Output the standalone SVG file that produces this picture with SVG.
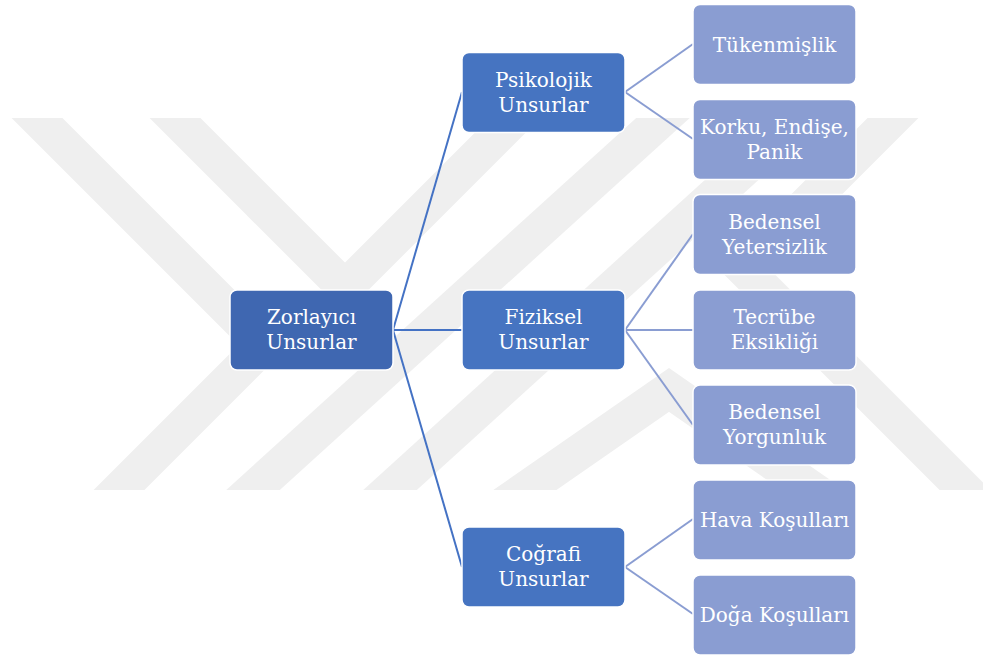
<svg xmlns="http://www.w3.org/2000/svg" width="983" height="658" viewBox="0 0 983 658">
<defs>
<clipPath id="wm"><rect x="0" y="118" width="983" height="372"/></clipPath>
<style>
.wm{fill:none;stroke:#EFEFEF;stroke-width:36;stroke-linejoin:miter;stroke-miterlimit:10}
.b1{fill:#3F67B1;stroke:#FFFFFF;stroke-width:1.5}
.b2{fill:#4674C1;stroke:#FFFFFF;stroke-width:1.5}
.b3{fill:#8A9DD2;stroke:#FFFFFF;stroke-width:1.5}
.c1{stroke:#4472C4;stroke-width:2;fill:none}
.c2{stroke:#8A9DD2;stroke-width:2;fill:none}
</style>
</defs>
<rect width="983" height="658" fill="#FFFFFF"/>
<g id="watermark" clip-path="url(#wm)">
<polyline class="wm" points="17,98 264,345 97,512"/>
<polyline class="wm" points="155,98 345,288 535,98"/>
<polyline class="wm" points="685,98 231,510"/>
<polyline class="wm" points="368,510 822,98"/>
<polyline class="wm" points="496,510 669,390 842,510"/>
<polyline class="wm" points="913,98 743,268 985,510"/>
</g>
<g id="connectors">
<line class="c1" x1="393" y1="330" x2="462" y2="92"/>
<line class="c1" x1="393" y1="330" x2="462" y2="330"/>
<line class="c1" x1="393" y1="330" x2="462" y2="567"/>
<line class="c2" x1="625" y1="92" x2="693" y2="44"/>
<line class="c2" x1="625" y1="92" x2="693" y2="139"/>
<line class="c2" x1="625" y1="330" x2="693" y2="234"/>
<line class="c2" x1="625" y1="330" x2="693" y2="330"/>
<line class="c2" x1="625" y1="330" x2="693" y2="425"/>
<line class="c2" x1="625" y1="567" x2="693" y2="519"/>
<line class="c2" x1="625" y1="567" x2="693" y2="614"/>
</g>
<g style="font-family:'DejaVu Serif','Liberation Serif',serif;font-size:20px;fill:#FFFFFF;text-anchor:middle">
<g id="zorlayici"><rect class="b1" x="230" y="290" width="163" height="80" rx="7"/><text x="311.5" y="324">Zorlayıcı</text><text x="311.5" y="349">Unsurlar</text></g>
<g id="psikolojik"><rect class="b2" x="462" y="52.5" width="163" height="80" rx="7"/><text x="543.5" y="87">Psikolojik</text><text x="543.5" y="112">Unsurlar</text></g>
<g id="fiziksel"><rect class="b2" x="462" y="290" width="163" height="80" rx="7"/><text x="543.5" y="324">Fiziksel</text><text x="543.5" y="349">Unsurlar</text></g>
<g id="cografi"><rect class="b2" x="462" y="527" width="163" height="80" rx="7"/><text x="543.5" y="561">Coğrafi</text><text x="543.5" y="586">Unsurlar</text></g>
<g id="tukenmislik"><rect class="b3" x="693" y="4.5" width="163" height="80" rx="7"/><text x="774.5" y="52">Tükenmişlik</text></g>
<g id="korku"><rect class="b3" x="693" y="99.5" width="163" height="80" rx="7"/><text x="774.5" y="134">Korku, Endişe,</text><text x="774.5" y="159">Panik</text></g>
<g id="bedensel-yetersizlik"><rect class="b3" x="693" y="194.5" width="163" height="80" rx="7"/><text x="774.5" y="229">Bedensel</text><text x="774.5" y="254">Yetersizlik</text></g>
<g id="tecrube"><rect class="b3" x="693" y="290" width="163" height="80" rx="7"/><text x="774.5" y="324">Tecrübe</text><text x="774.5" y="349">Eksikliği</text></g>
<g id="bedensel-yorgunluk"><rect class="b3" x="693" y="385" width="163" height="80" rx="7"/><text x="774.5" y="419">Bedensel</text><text x="774.5" y="444">Yorgunluk</text></g>
<g id="hava"><rect class="b3" x="693" y="480" width="163" height="80" rx="7"/><text x="774.5" y="527">Hava Koşulları</text></g>
<g id="doga"><rect class="b3" x="693" y="575" width="163" height="80" rx="7"/><text x="774.5" y="622">Doğa Koşulları</text></g>
</g>
</svg>
